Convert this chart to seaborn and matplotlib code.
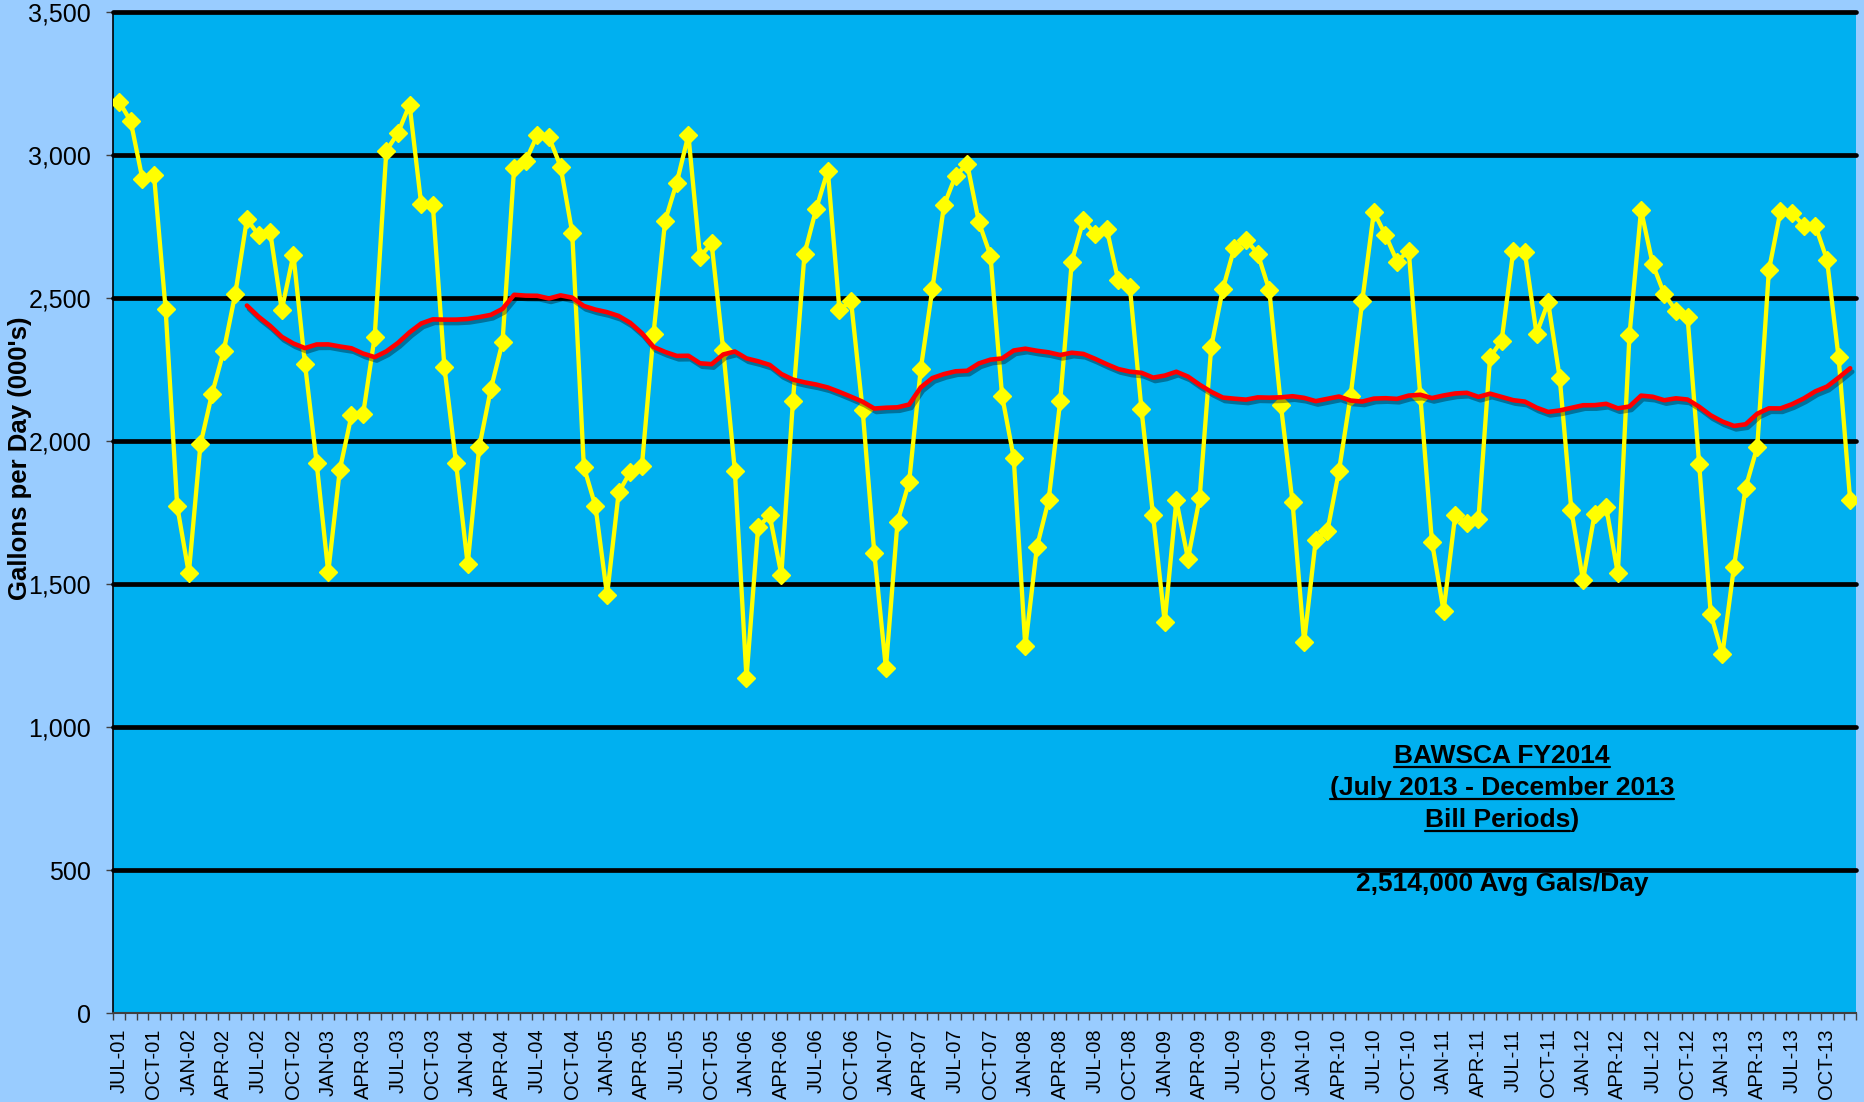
import numpy as np
import pandas as pd
import matplotlib
matplotlib.use("Agg")
import matplotlib.pyplot as plt
import matplotlib.patheffects as pe
from matplotlib.lines import Line2D
from matplotlib.ticker import FixedLocator, FuncFormatter
import seaborn as sns

# Monthly bill periods, JUL-01 through DEC-13
first_month = "2001-07-01"
n_months = 150
month_labels = [d.strftime("%b-%y").upper()
                for d in pd.date_range(first_month, periods=n_months, freq="MS")]

# Average daily use, thousands of gallons per day
gallons_per_day = [
    3186, 3117, 2917, 2931, 2462, 1772,                                  # Jul-Dec 01
    1537, 1988, 2165, 2314, 2514, 2775,                                  # Jan-Jun 02
    2720, 2731, 2458, 2651, 2269, 1924, 1541, 1900, 2089, 2093, 2365, 3014,
    3076, 3175, 2828, 2825, 2258, 1924, 1569, 1979, 2182, 2345, 2954, 2979,
    3069, 3062, 2959, 2728, 1910, 1772, 1461, 1820, 1892, 1914, 2375, 2770,
    2903, 3069, 2644, 2690, 2317, 1896, 1172, 1699, 1740, 1533, 2140, 2655,
    2811, 2945, 2458, 2489, 2107, 1610, 1206, 1717, 1857, 2251, 2531, 2823,
    2927, 2968, 2765, 2648, 2158, 1942, 1282, 1630, 1792, 2138, 2627, 2772,
    2724, 2742, 2561, 2538, 2110, 1740, 1367, 1792, 1588, 1799, 2328, 2531,
    2676, 2703, 2655, 2527, 2124, 1786, 1298, 1655, 1685, 1896, 2158, 2489,
    2800, 2720, 2627, 2665, 2158, 1648, 1406, 1740, 1712, 1726, 2292, 2351,
    2665, 2659, 2375, 2485, 2220, 1758, 1514, 1744, 1768, 1537, 2369, 2807,
    2618, 2513, 2455, 2434, 1919, 1395, 1254, 1561, 1837, 1979, 2596, 2803,
    2797, 2752, 2752, 2634, 2292, 1792,
]

y_ticks = [0, 500, 1000, 1500, 2000, 2500, 3000, 3500]
note_lines = ["BAWSCA FY2014", "(July 2013 - December 2013", "Bill Periods)"]
avg_note = "2,514,000 Avg Gals/Day"

df = pd.DataFrame({"month": np.arange(n_months), "label": month_labels,
                   "gpd": gallons_per_day})
# 12-month trailing moving average
df["avg12"] = df["gpd"].rolling(12).mean()

sns.set_style("ticks")
plt.rcParams["font.family"] = ["Liberation Sans", "DejaVu Sans"]
plt.rcParams["text.color"] = "black"
plt.rcParams["axes.labelcolor"] = "black"
plt.rcParams["xtick.color"] = "black"
plt.rcParams["ytick.color"] = "black"

W, H = 1864, 1102
fig = plt.figure(figsize=(W / 100, H / 100), dpi=100, facecolor="#99CCFF")
ax_left, ax_right, ax_top, ax_bottom = 113.3, 1856.0, 11.7, 1013.3
ax = fig.add_axes([ax_left / W, 1 - ax_bottom / H,
                   (ax_right - ax_left) / W, (ax_bottom - ax_top) / H])
ax.set_facecolor("#00B0F0")

# horizontal black gridlines
for v in y_ticks[1:]:
    ax.axhline(v, color="black", lw=3.4, zorder=1, clip_on=False)

sns.lineplot(data=df, x="month", y="gpd", ax=ax, color="#FFFF00", lw=3.1,
             marker="D", markersize=9.5, markeredgecolor="#FFFF00",
             markeredgewidth=1, zorder=3)
sns.lineplot(data=df.dropna(), x="month", y="avg12", ax=ax, color="#FF0000",
             lw=3.3, zorder=4)
ax.lines[-1].set_path_effects([
    pe.SimpleLineShadow(offset=(1.5, -2.5), shadow_color="black", alpha=0.35),
    pe.Normal()])

ax.set_xlim(-0.5, n_months - 0.5)
ax.set_ylim(0, 3500)

# category axis: labels every quarter, ticks at every month boundary
ax.xaxis.set_major_locator(FixedLocator(np.arange(0, n_months, 3)))
ax.set_xticklabels(month_labels[::3], rotation=90, fontsize=14.5, color="black")
ax.xaxis.set_minor_locator(FixedLocator(np.arange(-0.5, n_months, 1)))
ax.tick_params(axis="x", which="major", length=0, pad=11, labelcolor="black")
ax.tick_params(axis="x", which="minor", length=5, width=1, color="#404040",
               direction="out")

ax.yaxis.set_major_locator(FixedLocator(y_ticks))
ax.yaxis.set_major_formatter(FuncFormatter(lambda v, p: f"{v:,.0f}"))
ax.tick_params(axis="y", length=5, width=1, color="#404040", pad=11,
               labelsize=18, labelcolor="black")

ax.set_xlabel("")
ax.set_ylabel("")
for s in ("top", "right"):
    ax.spines[s].set_visible(False)
ax.spines["left"].set_color("black")
ax.spines["left"].set_linewidth(1.2)
ax.spines["bottom"].set_color("#404040")
ax.spines["bottom"].set_linewidth(1.5)

fig.text(20 / W, 1 - 458 / H, "Gallons per Day (000's)", rotation=90,
         fontsize=18.5, fontweight="bold", ha="center", va="center",
         color="black")

# annotation block with underlined lines
note_x = 0.797
note_size = 19
baselines_px = [763.3, 795.0, 826.7]
plot_h = ax_bottom - ax_top
fig.canvas.draw()
renderer = fig.canvas.get_renderer()
for line, ypx in zip(note_lines, baselines_px):
    yf = (ax_bottom - ypx) / plot_h
    t = ax.text(note_x, yf, line, transform=ax.transAxes, ha="center",
                va="baseline", fontsize=note_size, fontweight="bold", zorder=5,
                color="black")
    bb = t.get_window_extent(renderer)
    x0, x1 = bb.x0, bb.x1
    if line.endswith(")") and not line.startswith("("):
        tmp = ax.text(0, 0, ")", fontsize=note_size, fontweight="bold")
        x1 -= tmp.get_window_extent(renderer).width
        tmp.remove()
    uy = (H - ypx - 4) / H
    fig.add_artist(Line2D([x0 / W, x1 / W], [uy, uy], color="black", lw=1.6,
                          transform=fig.transFigure, zorder=6))

ax.text(note_x, (ax_bottom - 890.7) / plot_h, avg_note, transform=ax.transAxes,
        ha="center", va="baseline", fontsize=note_size, fontweight="bold",
        zorder=5, color="black")

fig.savefig("out.png", dpi=100, facecolor=fig.get_facecolor())
